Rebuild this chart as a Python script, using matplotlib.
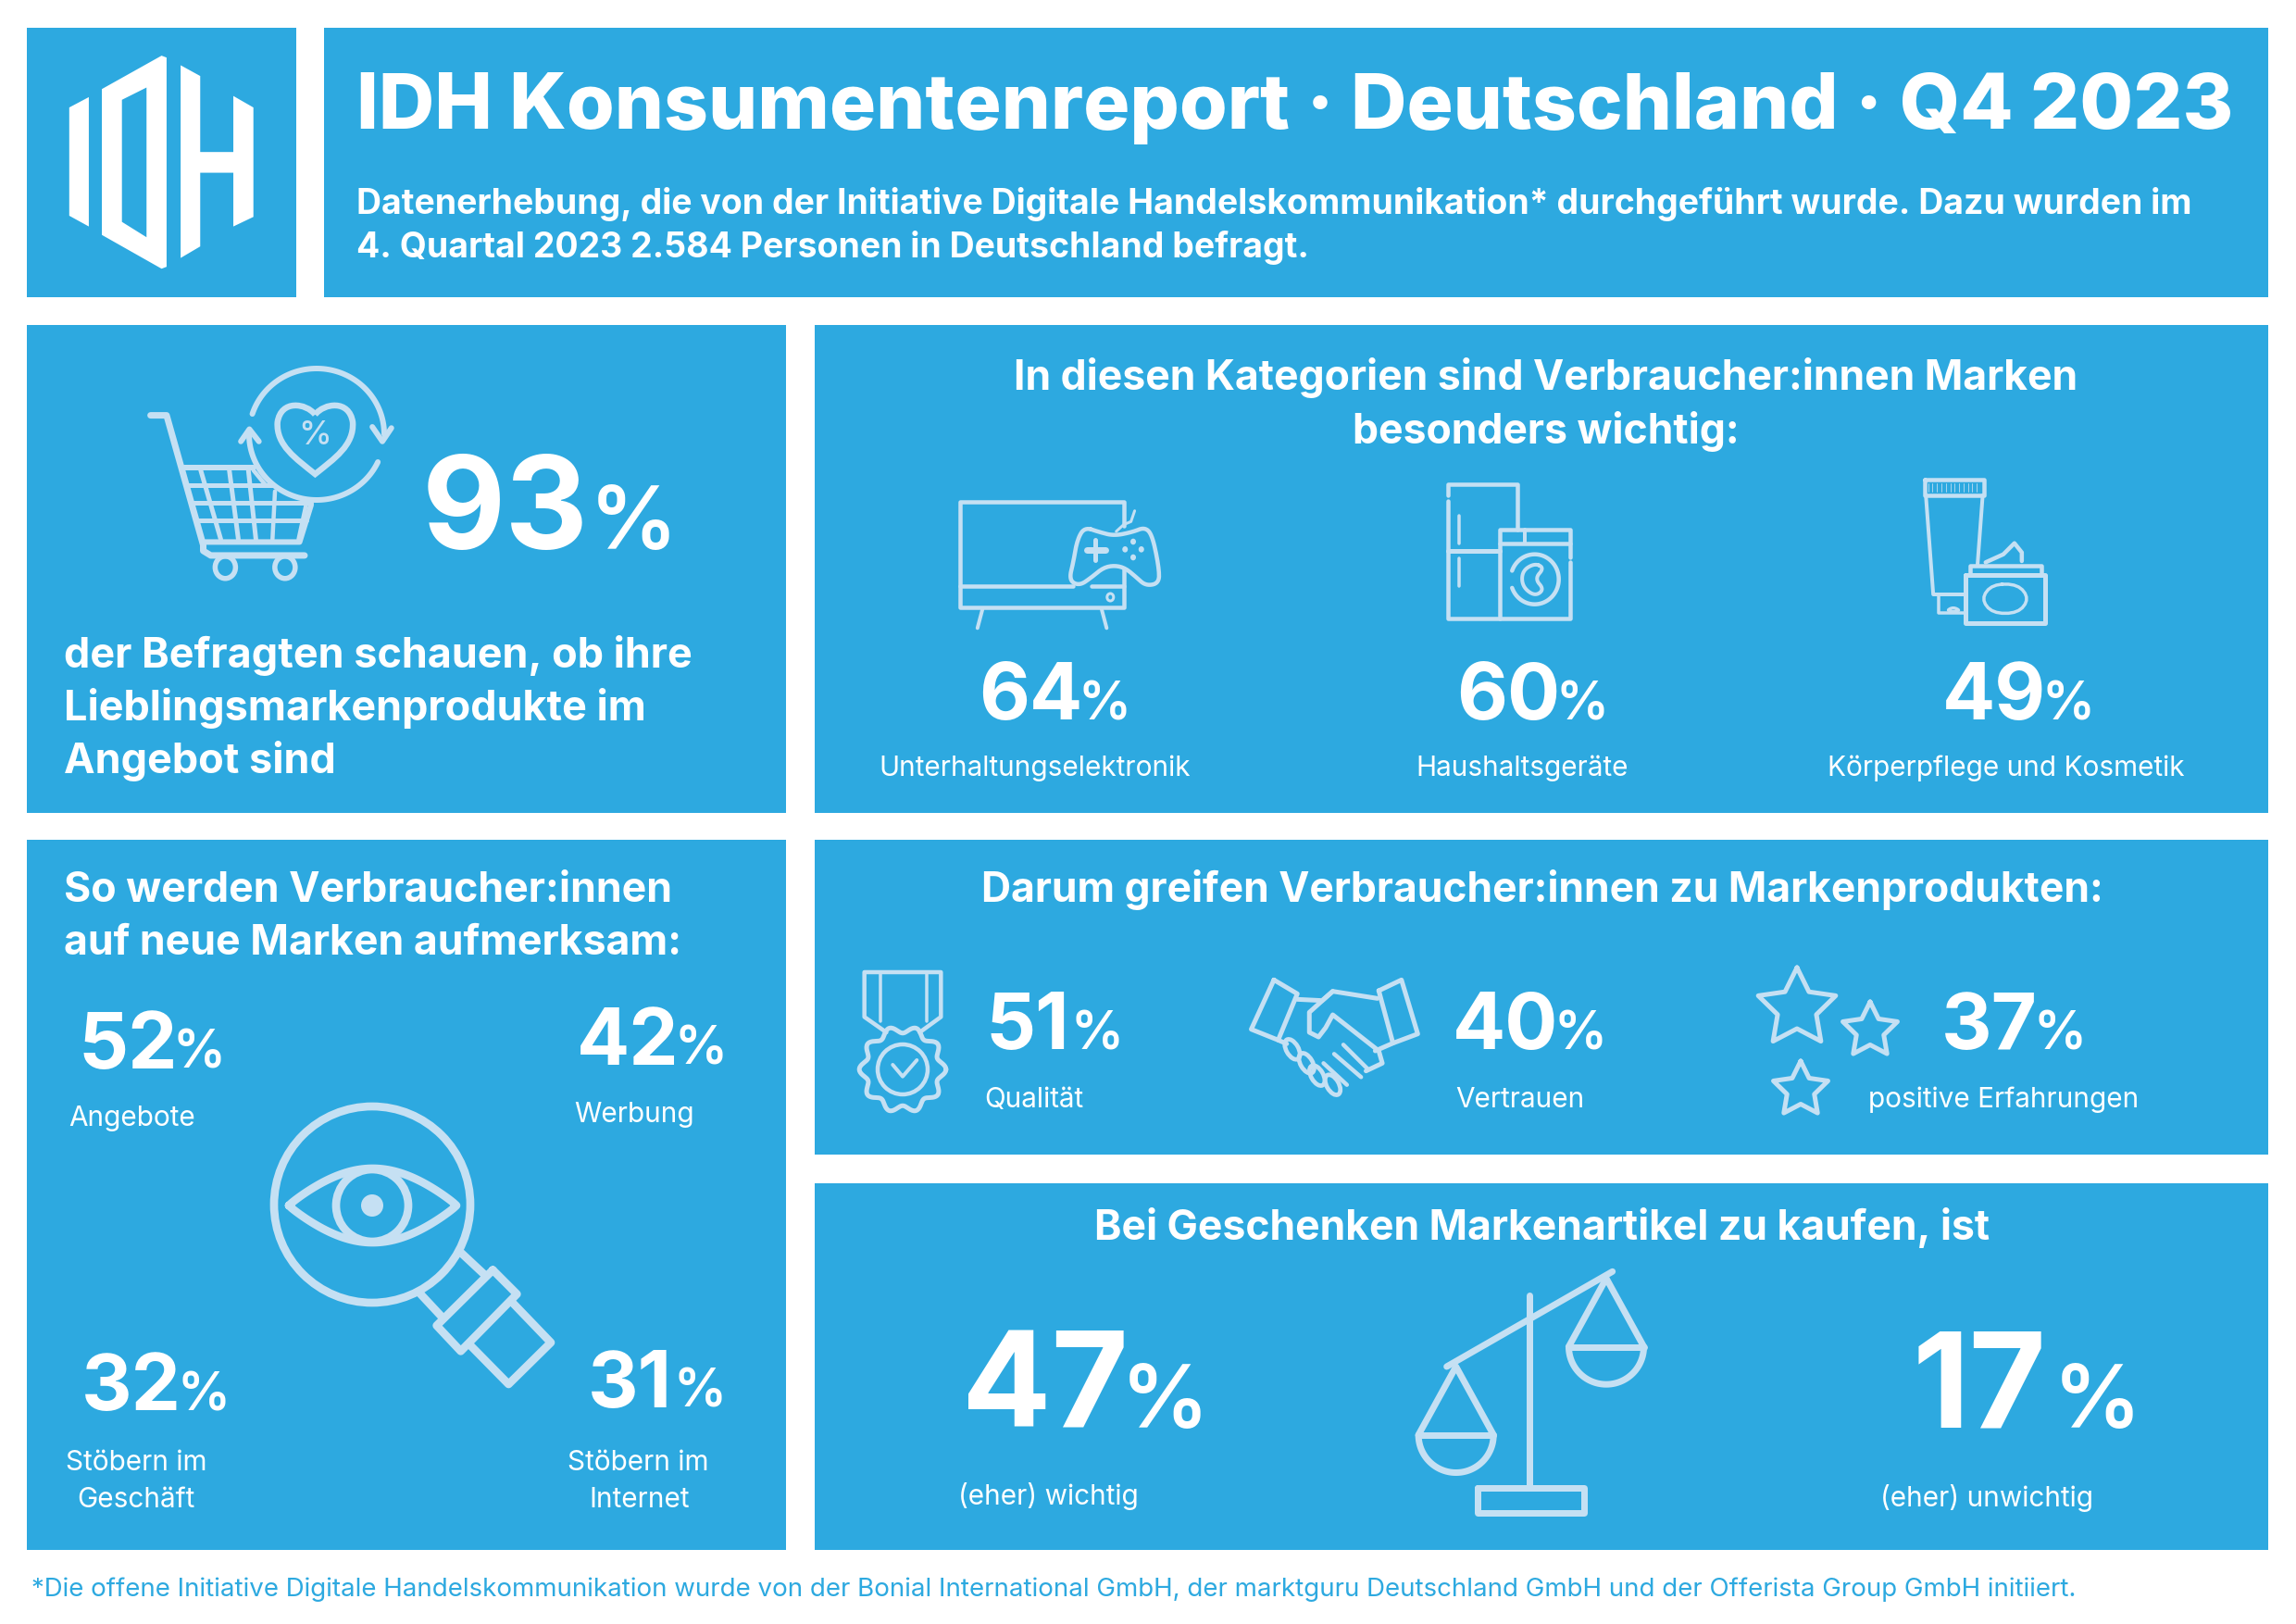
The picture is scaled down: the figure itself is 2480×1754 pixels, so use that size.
import numpy as np
import matplotlib
matplotlib.use("Agg")
import matplotlib.pyplot as plt
from matplotlib.patches import Rectangle, Polygon, Ellipse, PathPatch
from matplotlib.path import Path

# ---------- content ----------
TITLE = "IDH Konsumentenreport · Deutschland · Q4 2023"
SUBTITLE = ["Datenerhebung, die von der Initiative Digitale Handelskommunikation* durchgeführt wurde. Dazu wurden im",
            "4. Quartal 2023 2.584 Personen in Deutschland befragt."]
headline_value = 93
headline_text = ["der Befragten schauen, ob ihre", "Lieblingsmarkenprodukte im", "Angebot sind"]
cat_title = ["In diesen Kategorien sind Verbraucher:innen Marken", "besonders wichtig:"]
cat_labels = ["Unterhaltungselektronik", "Haushaltsgeräte", "Körperpflege und Kosmetik"]
cat_values = [64, 60, 49]
aware_title = ["So werden Verbraucher:innen", "auf neue Marken aufmerksam:"]
aware_labels = [["Angebote"], ["Werbung"], ["Stöbern im", "Geschäft"], ["Stöbern im", "Internet"]]
aware_values = [52, 42, 32, 31]
why_title = "Darum greifen Verbraucher:innen zu Markenprodukten:"
why_labels = ["Qualität", "Vertrauen", "positive Erfahrungen"]
why_values = [51, 40, 37]
gift_title = "Bei Geschenken Markenartikel zu kaufen, ist"
gift_labels = ["(eher) wichtig", "(eher) unwichtig"]
gift_values = [47, 17]
FOOT = "*Die offene Initiative Digitale Handelskommunikation wurde von der Bonial International GmbH, der marktguru Deutschland GmbH und der Offerista Group GmbH initiiert."

BLUE = "#2DA9E0"
ICON = "#C5E0F3"
plt.rcParams['font.family'] = ['Inter', 'DejaVu Sans']

fig = plt.figure(figsize=(24.8, 17.54), dpi=100, facecolor="white")
ax = fig.add_axes([0, 0, 1, 1])
ax.set_xlim(0, 2480)
ax.set_ylim(1754, 0)
ax.axis("off")
rend = fig.canvas.get_renderer()

for x0, y0, x1, y1 in [(29, 30, 320, 321), (350, 30, 2450, 321), (29, 351, 849, 878), (880, 351, 2450, 878),
                       (29, 907, 849, 1674), (880, 907, 2450, 1247), (880, 1278, 2450, 1674)]:
    ax.add_patch(Rectangle((x0, y0), x1 - x0, y1 - y0, fc=BLUE, ec="none"))


def width_of(s, size, weight):
    t = ax.text(0, 0, s, fontsize=size, fontweight=weight)
    w = t.get_window_extent(rend).width
    t.remove()
    return w


def size_for(s, target, weight):
    return 40 * target / width_of(s, 40, weight)


def T(x, y, s, size, weight="normal", ha="left", color="white"):
    return ax.text(x, y, s, fontsize=size, fontweight=weight, ha=ha, va="baseline", color=color)


def pct(x, y, value, size, psize, dx=0):
    s = str(value)
    T(x, y, s, size, "bold")
    w = width_of(s, size, "bold")
    T(x + w - 0.08 * size + dx, y, "%", psize, "semibold")


# ---------- text ----------
T(385, 139, TITLE, size_for(TITLE, 2027, "heavy"), "heavy")
s = size_for(SUBTITLE[0], 1982, "bold")
for yy, line in zip([231, 278], SUBTITLE):
    T(385, yy, line, s, "bold")

pct(456, 593, headline_value, 100, 68, dx=9)
s = size_for(headline_text[1], 630, "bold")
for yy, line in zip([721, 778, 835], headline_text):
    T(69, yy, line, s, "bold")

s = size_for(cat_title[0], 1153, "bold")
for yy, line in zip([421, 479], cat_title):
    T(1670, yy, line, s, "bold", ha="center")
for x, v in zip([1057, 1573, 2098], cat_values):
    pct(x, 777, v, 61, 41)
s2 = size_for(cat_labels[0], 337, "normal")
for x, l in zip([1118, 1644, 2167], cat_labels):
    T(x, 838, l, s2, "normal", ha="center")

s = size_for(aware_title[1], 669, "bold")
for yy, line in zip([974, 1031], aware_title):
    T(69, yy, line, s, "bold")
for (x, y), v, d in zip([(84, 1154), (623, 1150), (88, 1523), (635, 1520)], aware_values, [0, 0, 0, 6]):
    pct(x, y, v, 61, 41, dx=d)
for xs, ys, lab in zip([[74], [620], [71, 83], [613, 636]], [[1216], [1212], [1588, 1628], [1588, 1628]], aware_labels):
    for x, y, l in zip(xs, ys, lab):
        T(x, y, l, s2)

T(1666, 974, why_title, size_for(why_title, 1215, "bold"), "bold", ha="center")
for x, v, d in zip([1065, 1569, 2097], why_values, [6, 0, 0]):
    pct(x, 1133, v, 61, 41, dx=d)
for x, l in zip([1063, 1572, 2018], why_labels):
    T(x, 1196, l, s2)

T(1666, 1339, gift_title, size_for(gift_title, 970, "bold"), "bold", ha="center")
for x, v, d in zip([1039, 2066], gift_values, [0, 15]):
    pct(x, 1542, v, 103, 68, dx=d)
for x, y, l in zip([1035, 2031], [1625, 1627], gift_labels):
    T(x, y, l, s2)

T(34, 1724, FOOT, size_for(FOOT, 2213, "normal"), "normal", color=BLUE)


# ---------- icons ----------
def L(pts, lw=6.0, color=ICON, closed=False):
    p = np.array(pts, float)
    if closed:
        p = np.vstack([p, p[:1]])
    ax.plot(p[:, 0], p[:, 1], color=color, lw=lw * 0.72, solid_capstyle="round", solid_joinstyle="round")


def Z(ox, oy, sx, sy):
    def f(pts):
        return [(ox + a / sx, oy + b / sy) for a, b in pts]
    return f


def smooth(pts, n=3):
    p = np.array(pts, float)
    for _ in range(n):
        q = np.roll(p, -1, axis=0)
        a = 0.75 * p + 0.25 * q
        b = 0.25 * p + 0.75 * q
        p = np.empty((2 * len(a), 2))
        p[0::2] = a
        p[1::2] = b
    return p


def arc(cx, cy, rx, ry, a0, a1, n=80):
    t = np.radians(np.linspace(a0, a1, n))
    return np.c_[cx + rx * np.cos(t), cy + ry * np.sin(t)]


def circ(cx, cy, r, lw=6.0, fill=False, ry=None):
    ry = r if ry is None else ry
    ax.add_patch(Ellipse((cx, cy), 2 * r, 2 * ry, fc=ICON if fill else "none", ec=ICON if not fill else "none",
                         lw=lw * 0.72))


def star(cx, cy, R, lw=5.0):
    ang = np.radians(-90 + np.arange(10) * 36)
    rad = np.where(np.arange(10) % 2 == 0, R, R * 0.5)
    L(np.c_[cx + rad * np.cos(ang), cy + rad * np.sin(ang)], lw, closed=True)


# logo
z = Z(0, 0, 1.845, 2.412)
ax.add_patch(Polygon(z([(138, 280), (177, 253), (177, 590), (138, 562)]), fc="white", ec="none"))
outer = z([(203, 232), (322, 145), (332, 150), (332, 695), (322, 700), (203, 612)])
inner = z([(243, 260), (292, 228), (292, 618), (243, 578)])
verts = outer + outer[:1] + inner[::-1] + inner[-1:]
codes = [Path.MOVETO] + [Path.LINETO] * (len(outer) - 1) + [Path.CLOSEPOLY] + [Path.MOVETO] + [Path.LINETO] * (len(inner) - 1) + [Path.CLOSEPOLY]
ax.add_patch(PathPatch(Path(verts, codes), fc="white", ec="none"))
ax.add_patch(Polygon(z([(360, 170), (399, 198), (399, 396), (465, 396), (465, 250), (505, 280), (505, 565),
                        (465, 590), (465, 450), (399, 450), (399, 642), (360, 672)]), fc="white", ec="none"))

# cart
L(z([(300, 1082), (332, 1082), (405, 1420), (405, 1435), (420, 1447), (607, 1447)]), 7)
L(z([(368, 1218), (505, 1218)]), 6)
L(z([(405, 1412), (597, 1412), (620, 1315)]), 6)
for yy, a, b in [(1265, 375, 545), (1310, 385, 620), (1355, 395, 610)]:
    L(z([(a, yy), (b, yy)]), 5)
for a, b in [(400, 440), (457, 475), (495, 510)]:
    L(z([(a, 1225), (b, 1405)]), 5)
L(z([(505, 1225), (530, 1265)]), 4.5)
L(z([(610, 1315), (595, 1405)]), 4.5)
L(z([(548, 1280), (543, 1405)]), 4.5)
circ(*z([(449, 1478)])[0], 11, 5.5, ry=12)
circ(*z([(568, 1478)])[0], 11, 5.5, ry=12)
L(arc(342, 469, 73, 71, 198, 360), 6)
L(arc(342, 469, 73, 71, 25, 180), 6)
L(z([(742, 1112), (762, 1150), (780, 1115)]), 6)
L(z([(480, 1150), (497, 1118), (516, 1150)]), 6)
hp = z([(628, 1080), (610, 1050), (560, 1040), (553, 1100), (550, 1160), (590, 1195), (628, 1235),
        (666, 1195), (706, 1160), (703, 1100), (696, 1040), (646, 1050), (628, 1080)])
ax.add_patch(PathPatch(Path(hp, [Path.MOVETO] + [Path.CURVE4] * 12), fc="none", ec=ICON, lw=6.5 * 0.72))
T(340, 480, "%", 26, "medium", ha="center", color=ICON)

# TV and controller
z = Z(1000, 500, 1.2544, 3)
L(z([(268, 205), (268, 125), (47, 125), (47, 468), (268, 468), (268, 345)]), 4.5)
L(z([(47, 400), (200, 400)]), 4.5)
L(z([(225, 400), (268, 400)]), 4.5)
L(z([(77, 472), (70, 535)]), 4)
L(z([(238, 472), (245, 535)]), 4)
circ(*z([(250, 435)])[0], 3.5, 3, ry=4)
L(smooth(z([(215, 208), (235, 224), (255, 236), (280, 224), (297, 208), (307, 235), (316, 340), (316, 390), (298, 398),
            (285, 370), (270, 340), (255, 332), (240, 340), (225, 370), (208, 398), (194, 380), (200, 320), (205, 250)])), 4.5, closed=True)
L(z([(230, 250), (230, 315)]), 5)
L(z([(218, 283), (243, 283)]), 7)
for p in z([(281, 255), (270, 280), (292, 280), (281, 306)]):
    circ(*p, 3, fill=True, ry=3.3)
L(z([(283, 155), (278, 190), (268, 200), (258, 222)]), 3)

# fridge and washer
L(z([(708, 105), (708, 70), (802, 70), (802, 215)]), 4.5)
L(z([(708, 122), (708, 503), (873, 503), (873, 322)]), 4.5)
L(z([(708, 284), (778, 284)]), 5)
L(z([(722, 170), (722, 260)]), 3.5)
L(z([(722, 310), (722, 400)]), 3.5)
L(z([(873, 305), (873, 215), (778, 215), (778, 503)]), 4.5)
L(z([(778, 262), (873, 262)]), 4.5)
L(z([(812, 215), (812, 262)]), 4)
cx, cy = z([(825, 377)])[0]
L(arc(cx, cy, 26, 27, 200, 520), 4.5)
L(smooth(z([(825, 325), (838, 340), (825, 375), (838, 410), (825, 432), (808, 400), (808, 350)])), 4, closed=True)

# tube and jar
L(z([(1353, 54), (1434, 54), (1434, 104), (1353, 104)]), 4.5, closed=True)
for xb in np.arange(1358, 1430, 6):
    L(z([(xb, 66), (xb, 92)]), 0.8)
L(z([(1355, 105), (1365, 426), (1408, 426)]), 4)
L(z([(1432, 105), (1425, 330)]), 4)
L(z([(1372, 430), (1372, 485), (1408, 485)]), 3.5)
L(smooth(z([(1382, 480), (1392, 466), (1403, 480)]), 2), 3)
L(z([(1409, 364), (1516, 364), (1516, 518), (1409, 518)]), 5, closed=True)
L(z([(1415, 362), (1415, 334), (1511, 334), (1511, 362)]), 4.5)
L(smooth(z([(1445, 393), (1480, 393), (1495, 440), (1480, 487), (1445, 487), (1430, 440)]), 2), 3.5, closed=True)
L(z([(1436, 322), (1460, 296), (1475, 260), (1485, 290), (1485, 318)]), 4.5)

# magnifier
z = Z(270, 1170, 3, 3)
circ(402, 1301, 106, 8.7)
L(np.vstack([np.c_[np.linspace(312, 493, 60), 1302 - 40 * np.sin(np.linspace(0, np.pi, 60)) ** 0.9],
             np.c_[np.linspace(493, 312, 60), 1302 + 40 * np.sin(np.linspace(0, np.pi, 60)) ** 0.9]]), 8.7, closed=True)
circ(402, 1302, 39, 8.7)
circ(402, 1302, 12, fill=True)
L(z([(550, 680), (620, 755)]), 8.7)
L(z([(685, 550), (760, 620)]), 8.7)
L(z([(787, 605), (865, 683), (683, 868), (605, 785)]), 8.7, closed=True)
L(z([(850, 710), (975, 840), (838, 975), (715, 850)]), 8.7)

# medal
z = Z(900, 1020, 1.3067, 3)
L(z([(75, 285), (44, 235), (44, 90), (152, 90), (152, 235), (122, 285)]), 4.5)
L(z([(66, 90), (66, 250)]), 3.5)
L(z([(132, 90), (132, 250)]), 3.5)
th = np.linspace(0, 2 * np.pi, 361)
r = 43 + 3.8 * np.cos(10 * th)
L(np.c_[975 + r * np.cos(th), 1155 + r * np.sin(th)], 5)
circ(975, 1155, 27, 4.5)
L(z([(84, 390), (98, 428), (118, 375)]), 4)

# handshake
L(z([(622, 115), (655, 160), (628, 310), (590, 275)]), 5, closed=True)
L(z([(770, 150), (802, 115), (825, 290), (790, 320)]), 5, closed=True)
L(z([(655, 178), (690, 182), (705, 152), (768, 175)]), 5)
L(z([(705, 152), (672, 220), (672, 285), (685, 300), (695, 270), (705, 228), (770, 345), (775, 385), (752, 410)]), 5)
L(z([(765, 345), (790, 320)]), 5)
L(z([(628, 310), (640, 322)]), 5)
for p in z([(648, 340), (668, 385), (683, 425), (705, 455)]):
    ax.add_patch(Ellipse(p, 13, 24, fc="none", ec=ICON, lw=3.4, angle=-30))
L(z([(720, 325), (755, 405)]), 4.5)
L(z([(707, 355), (745, 430)]), 4.5)
L(z([(692, 385), (725, 455)]), 4.5)

# stars
star(1941, 1089, 44)
star(2020, 1113, 31)
star(1945, 1177, 31)

# scales
z = Z(1500, 1350, 3, 3)
L(z([(188, 378), (725, 70)]), 7)
L(z([(456, 148), (456, 770)]), 7)
L(z([(288, 770), (632, 770), (632, 852), (288, 852)]), 7, closed=True)
for ax0, ay0 in [(218, 378), (705, 92)]:
    yb = ay0 + 222
    L(z([(ax0 - 122, yb), (ax0, ay0), (ax0 + 122, yb)]), 7)
    L(z([(ax0 - 122, yb), (ax0 + 122, yb)]), 7)
    cxp, cyp = z([(ax0, yb)])[0]
    L(arc(cxp, cyp, 40.5, 40.5, 0, 180), 7)

fig.savefig("out.png", dpi=100, facecolor="white")
